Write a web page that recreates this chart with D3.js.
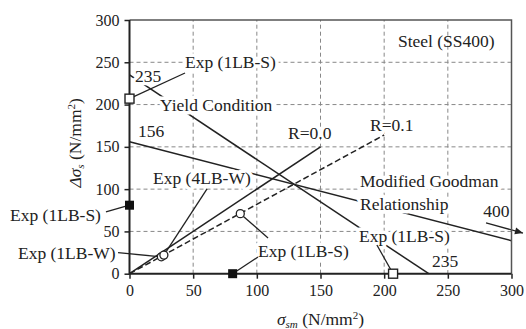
<!DOCTYPE html>
<html>
<head>
<meta charset="utf-8">
<script src="https://cdn.jsdelivr.net/npm/d3@7"></script>
</head>
<body style="margin:0;background:#fff">
<svg id="chart" width="526" height="329" style="display:block"></svg>
<script>
// Axis ticks
const X_TICKS = [0, 50, 100, 150, 200, 250, 300];
const Y_TICKS = [0, 50, 100, 150, 200, 250, 300];

// Design lines (σsm, Δσs)
const YIELD_LINE = [[0, 235], [235, 0]];
const GOODMAN_LINE = [[0, 156], [400, 0]];
const R00_LINE = [[0, 0], [150, 150]];
const R01_LINE = [[0, 0], [200, 164]];

// Experimental points
const OPEN_SQUARES = [[0, 207], [207, 0]];
const FILLED_SQUARES = [[0, 81], [81, 0]];
const OPEN_CIRCLES = [[25, 20], [27, 22], [87, 71]];

const FONT = '"Liberation Serif", monospace';
const LABEL_SIZE = 17.5;
const svg = d3.select("#chart");
const x = d3.scaleLinear().domain([0, 300]).range([129.5, 511.5]);
const y = d3.scaleLinear().domain([0, 300]).range([273.7, 20]);
const line = d3.line().x(d => x(d[0])).y(d => y(d[1]));
const INK = "#222";

// Goodman line ends where it leaves the plot at σsm = 300
const gEnd = [300, GOODMAN_LINE[0][1] + (GOODMAN_LINE[1][1] - GOODMAN_LINE[0][1]) * 300 / GOODMAN_LINE[1][0]];

// grid
const grid = svg.append("g").attr("stroke", "#888").attr("stroke-width", 1)
  .attr("stroke-dasharray", "4,3");
grid.selectAll(".gx").data(X_TICKS.slice(1, -1)).join("line")
  .attr("x1", d => x(d)).attr("x2", d => x(d))
  .attr("y1", y(0)).attr("y2", y(300));
grid.selectAll(".gy").data(Y_TICKS.slice(1, -1)).join("line")
  .attr("y1", d => y(d)).attr("y2", d => y(d))
  .attr("x1", x(0)).attr("x2", x(300));

// design lines
const lines = svg.append("g").attr("fill", "none").attr("stroke", INK).attr("stroke-width", 1.5);
lines.append("path").attr("d", line(YIELD_LINE));
lines.append("path").attr("d", line([GOODMAN_LINE[0], gEnd]));
lines.append("path").attr("d", line(R00_LINE));
lines.append("path").attr("d", line(R01_LINE)).attr("stroke-dasharray", "6,3");

// labels (position in data units: left edge, vertical centre); halo hides lines beneath
const labels = [
  { t: "Exp (1LB-S)", at: [43.6, 250.3], bg: true },
  { t: "235", at: [4.3, 233.8], bg: true },
  { t: "Yield Condition", at: [24, 199.5], bg: true },
  { t: "156", at: [6.7, 168.7], bg: true },
  { t: "R=0.0", at: [124.5, 166.4], bg: true },
  { t: "R=0.1", at: [188.9, 175.8], bg: true },
  { t: "Steel (SS400)", at: [210.8, 275.2], bg: false },
  { t: "Exp (4LB-W)", at: [18.5, 112.6], bg: true },
  { t: "Exp (1LB-S)", at: [-93.8, 69.4], bg: true },
  { t: "Exp (1LB-W)", at: [-87.6, 24.5], bg: true },
  { t: "Exp (1LB-S)", at: [100.9, 26.3], bg: true },
  { t: "Modified Goodman", at: [181, 109.6], bg: true },
  { t: "Relationship", at: [181, 82.4], bg: true },
  { t: "Exp (1LB-S)", at: [180.2, 44], bg: true },
  { t: "400", at: [277.9, 74.1], bg: true },
  { t: "235", at: [237.5, 14.4], bg: true }
];
svg.append("g").selectAll("text").data(labels).join("text")
  .attr("x", d => x(d.at[0])).attr("y", d => y(d.at[1]))
  .attr("dy", "0.32em")
  .attr("font-size", LABEL_SIZE)
  .style("font-family", FONT)
  .style("fill", INK)
  .style("stroke", d => d.bg ? "#fff" : "none")
  .style("stroke-width", 7)
  .style("stroke-linejoin", "round")
  .style("paint-order", "stroke")
  .text(d => d.t);

// leader lines from labels to points
const leaders = [
  [[0, 207], [43.6, 237.3]],
  [[0, 81], [-18.5, 73]],
  [[25, 20], [-9, 24.8]],
  [[27, 22], [60.9, 100.2]],
  [[81, 0], [100.9, 19.7]],
  [[87, 71], [108.8, 42.2]],
  [[207, 0], [194.3, 33.9]]
];
svg.append("g").attr("stroke", INK).attr("stroke-width", 1.3).attr("fill", "none")
  .selectAll("path").data(leaders).join("path").attr("d", d => line(d));

// arrow pointing to the Goodman intercept at 400
const arrow = [[280, 60], [309, 48.1]];
svg.append("path")
  .attr("d", line(arrow))
  .attr("stroke", INK).attr("stroke-width", 1.3).attr("fill", "none");
{
  const [x1, y1] = [x(arrow[0][0]), y(arrow[0][1])];
  const [x2, y2] = [x(arrow[1][0]), y(arrow[1][1])];
  const a = Math.atan2(y2 - y1, x2 - x1), L = 8, W = 3.5;
  const p = [
    [x2, y2],
    [x2 - L * Math.cos(a) + W * Math.sin(a), y2 - L * Math.sin(a) - W * Math.cos(a)],
    [x2 - L * Math.cos(a) - W * Math.sin(a), y2 - L * Math.sin(a) + W * Math.cos(a)]
  ];
  svg.append("path").attr("d", "M" + p.join("L") + "Z").attr("fill", INK);
}

// axes
const xAxis = d3.axisBottom(x).tickValues(X_TICKS).tickSize(5).tickPadding(6)
  .tickFormat(d3.format("d"));
const yAxis = d3.axisLeft(y).tickValues(Y_TICKS).tickSize(5).tickPadding(5)
  .tickFormat(d3.format("d"));
const gx = svg.append("g").attr("transform", `translate(0,${y(0)})`).call(xAxis);
const gy = svg.append("g").attr("transform", `translate(${x(0)},0)`).call(yAxis);
[gx, gy].forEach(g => {
  g.attr("font-family", null).attr("font-size", null);
  g.select(".domain").remove();
  g.selectAll(".tick line").attr("stroke", INK).attr("stroke-width", 1.5);
  g.selectAll(".tick text").attr("font-size", 16)
    .style("font-family", FONT).style("fill", INK);
});

// frame
svg.append("path")
  .attr("d", `M${x(0)},${y(300)}H${x(300)}V${y(0)}`)
  .attr("fill", "none").attr("stroke", "#555").attr("stroke-width", 1.5);
svg.append("path")
  .attr("d", `M${x(0)},${y(300)}V${y(0)}H${x(300)}`)
  .attr("fill", "none").attr("stroke", INK).attr("stroke-width", 2);

// markers
const mk = svg.append("g");
mk.selectAll(".os").data(OPEN_SQUARES).join("rect")
  .attr("x", d => x(d[0]) - 4.5).attr("y", d => y(d[1]) - 4.5)
  .attr("width", 9).attr("height", 9)
  .attr("fill", "#fff").attr("stroke", INK).attr("stroke-width", 1.4);
mk.selectAll(".fs").data(FILLED_SQUARES).join("rect")
  .attr("x", d => x(d[0]) - 4.5).attr("y", d => y(d[1]) - 4.5)
  .attr("width", 9).attr("height", 9)
  .attr("fill", "#111");
mk.selectAll(".oc").data(OPEN_CIRCLES).join("circle")
  .attr("cx", d => x(d[0])).attr("cy", d => y(d[1])).attr("r", 4)
  .attr("fill", "#fff").attr("stroke", INK).attr("stroke-width", 1.3);

// axis titles
const xt = svg.append("text")
  .attr("x", (x(0) + x(300)) / 2).attr("y", 325)
  .attr("text-anchor", "middle").attr("font-size", LABEL_SIZE)
  .style("font-family", FONT).style("fill", INK);
xt.append("tspan").attr("font-style", "italic").text("σ");
xt.append("tspan").attr("font-style", "italic").attr("font-size", 11).attr("dy", 3).text("sm");
xt.append("tspan").attr("dy", -3).text(" (N/mm");
xt.append("tspan").attr("font-size", 11).attr("dy", -6).text("2");
xt.append("tspan").attr("dy", 6).text(")");

const yt = svg.append("text")
  .attr("transform", `translate(81,${(y(0) + y(300)) / 2 - 4}) rotate(-90)`)
  .attr("text-anchor", "middle").attr("font-size", LABEL_SIZE)
  .style("font-family", FONT).style("fill", INK);
yt.append("tspan").attr("font-style", "italic").text("Δσ");
yt.append("tspan").attr("font-style", "italic").attr("font-size", 11).attr("dy", 3).text("s");
yt.append("tspan").attr("dy", -3).text(" (N/mm");
yt.append("tspan").attr("font-size", 11).attr("dy", -6).text("2");
yt.append("tspan").attr("dy", 6).text(")");
</script>
</body>
</html>
